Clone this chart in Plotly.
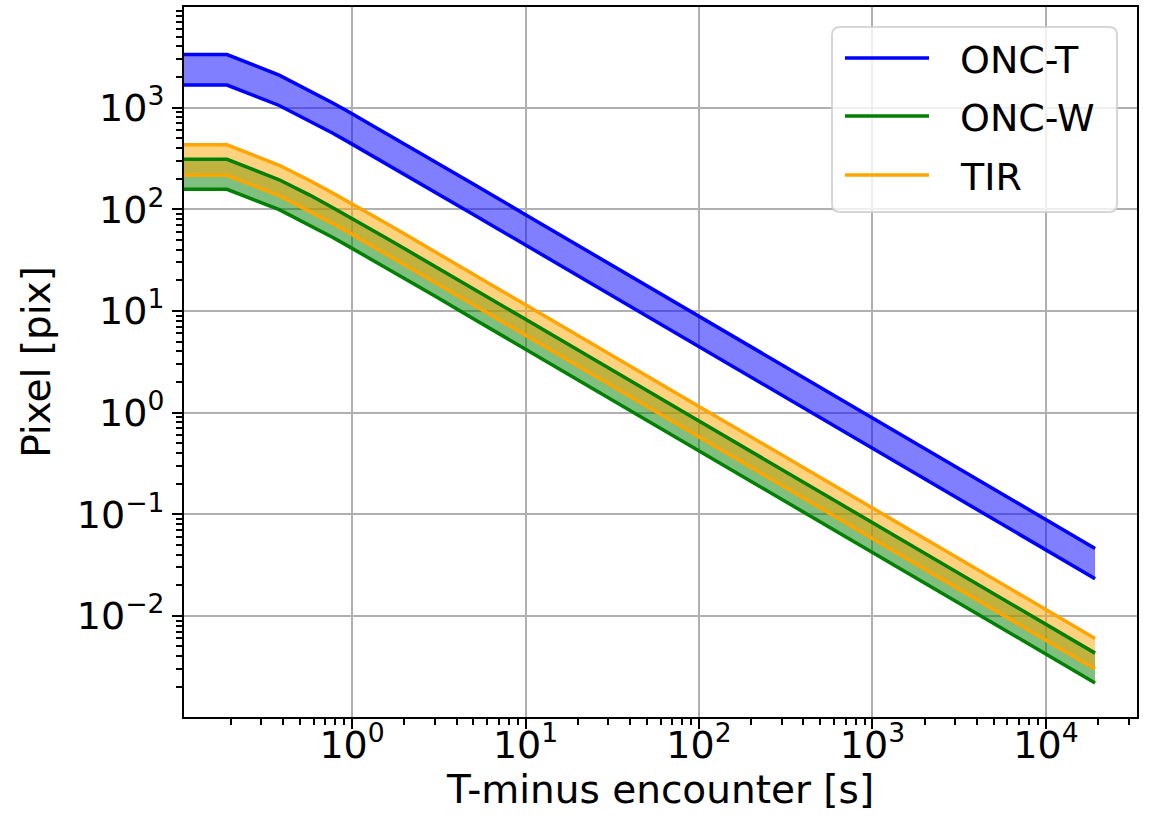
import plotly.graph_objects as go

# Time before encounter [s]
t_minus = [0.1, 0.19, 0.38, 0.57, 0.77, 0.96, 1.5, 2, 3, 5, 10, 100, 1000, 10000, 19200]

# Apparent target size in pixels (upper / lower bound) per instrument
onc_t_upper = [3330, 3330, 2089, 1475, 1117, 905, 585, 441, 294, 177, 88.5, 8.85, 0.885, 0.0885, 0.0461]
onc_t_lower = [1669, 1669, 1050, 742, 562, 455, 294, 222, 148, 88.9, 44.5, 4.45, 0.445, 0.0445, 0.0232]
onc_w_upper = [310, 310, 195, 138, 104, 84.5, 54.6, 41.1, 27.5, 16.5, 8.26, 0.826, 0.0826, 0.00826, 0.0043]
onc_w_lower = [157, 157, 99.2, 70.0, 53.0, 42.9, 27.8, 20.9, 14.0, 8.39, 4.2, 0.42, 0.042, 0.0042, 0.00219]
tir_upper = [431, 431, 271, 192, 145, 118, 76.1, 57.3, 38.3, 23.0, 11.5, 1.15, 0.115, 0.0115, 0.006]
tir_lower = [216, 216, 136, 96.0, 72.7, 58.9, 38.1, 28.7, 19.2, 11.5, 5.76, 0.576, 0.0576, 0.00576, 0.003]

# Decade tick exponents
x_exponents = [0, 1, 2, 3, 4]
y_exponents = [-2, -1, 0, 1, 2, 3]

instruments = ["ONC-T", "ONC-W", "TIR"]
uppers = [onc_t_upper, onc_w_upper, tir_upper]
lowers = [onc_t_lower, onc_w_lower, tir_lower]
colors = ["#0000ff", "#008000", "#ffa500"]
fills = ["rgba(0,0,255,0.5)", "rgba(0,128,0,0.5)", "rgba(255,165,0,0.5)"]

FONT = "DejaVu Sans"
W, H = 1153, 825
ML, MR, MT, MB = 184, 16, 7, 108
PW, PH = W - ML - MR, H - MT - MB

fig = go.Figure()

# shaded bands between lower and upper bounds
for name, up, lo, fc in zip(instruments, uppers, lowers, fills):
    fig.add_trace(go.Scatter(x=t_minus, y=lo, mode="lines", line=dict(width=0),
                             showlegend=False, hoverinfo="skip"))
    fig.add_trace(go.Scatter(x=t_minus, y=up, mode="lines", line=dict(width=0),
                             fill="tonexty", fillcolor=fc, showlegend=False,
                             hoverinfo="skip"))

# bound lines
for name, up, lo, c in zip(instruments, uppers, lowers, colors):
    fig.add_trace(go.Scatter(x=t_minus, y=up, mode="lines", name=name,
                             line=dict(color=c, width=3.5), showlegend=False))
    fig.add_trace(go.Scatter(x=t_minus, y=lo, mode="lines", name=name,
                             line=dict(color=c, width=3.5), showlegend=False))


def power_label(e):
    s = str(e).replace("-", "\u2212")
    return f"10<sup>{s}</sup>"


def minor_vals(lo, hi):
    return [m * 10.0 ** e for e in range(lo, hi + 1) for m in range(2, 10)]


def axis_style(exps, minors):
    return dict(
        type="log", tickmode="array",
        tickvals=[10.0 ** e for e in exps], ticktext=[power_label(e) for e in exps],
        showline=True, linecolor="black", linewidth=2, mirror=True,
        ticks="outside", ticklen=10, tickwidth=2, tickcolor="black",
        showgrid=True, gridcolor="#b0b0b0", gridwidth=2, zeroline=False,
        tickfont=dict(family=FONT, size=38, color="black"),
        minor=dict(tickmode="array", tickvals=minors, ticks="outside", ticklen=6,
                   tickwidth=1.5, tickcolor="black", showgrid=False),
    )


xa = axis_style(x_exponents, minor_vals(-1, 4))
xa.update(range=[-0.969, 4.525], ticklabelstandoff=-17,
          title=dict(text="T-minus encounter [s]", standoff=6,
                     font=dict(family=FONT, size=39)))
ya = axis_style(y_exponents, minor_vals(-3, 3))
ya.update(range=[-2.995, 3.99], ticklabelstandoff=0,
          title=dict(text="Pixel [pix]", standoff=14,
                     font=dict(family=FONT, size=39)))

fig.update_layout(
    width=W, height=H,
    margin=dict(l=ML, r=MR, t=MT, b=MB, autoexpand=False),
    paper_bgcolor="white", plot_bgcolor="white",
    font=dict(family=FONT, size=38, color="black"),
    xaxis=xa, yaxis=ya,
    showlegend=False,
)


def px_x(p):
    return (p - ML) / PW


def px_y(p):
    return 1 - (p - MT) / PH


# legend frame with rounded corners
x0, x1, y0, y1, r = 832, 1117, 27, 212, 8
rx, ry = r / PW, r / PH
X0, X1, Y0, Y1 = px_x(x0), px_x(x1), px_y(y0), px_y(y1)
path = (f"M{X0 + rx},{Y0} L{X1 - rx},{Y0} Q{X1},{Y0} {X1},{Y0 - ry} "
        f"L{X1},{Y1 + ry} Q{X1},{Y1} {X1 - rx},{Y1} L{X0 + rx},{Y1} "
        f"Q{X0},{Y1} {X0},{Y1 + ry} L{X0},{Y0 - ry} Q{X0},{Y0} {X0 + rx},{Y0} Z")
fig.add_shape(type="path", path=path, xref="paper", yref="paper",
              fillcolor="rgba(255,255,255,0.8)",
              line=dict(color="rgba(204,204,204,0.8)", width=2))

legend_rows = [58, 116, 175]
for name, c, yy in zip(instruments, colors, legend_rows):
    fig.add_shape(type="line", xref="paper", yref="paper",
                  x0=px_x(845), x1=px_x(929), y0=px_y(yy), y1=px_y(yy),
                  line=dict(color=c, width=3.5))
    fig.add_annotation(x=px_x(958), y=px_y(yy + 2), xref="paper", yref="paper",
                       text=name, showarrow=False, xanchor="left", yanchor="middle",
                       font=dict(family=FONT, size=38, color="black"))

fig.write_html("out.html")
